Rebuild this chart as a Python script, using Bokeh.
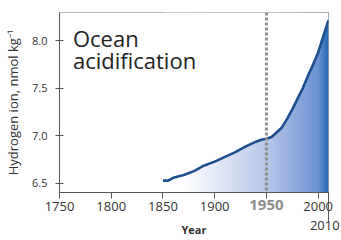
import numpy as np
from bokeh.plotting import figure
from bokeh.models import Span, Label, FixedTicker, Range1d, LinearAxis, NumeralTickFormatter
from bokeh.embed import file_html
from bokeh.resources import INLINE

# ---- data ----
years = [1850, 1855, 1860, 1870, 1880, 1890, 1900, 1910, 1920, 1930, 1940, 1945,
         1950, 1955, 1960, 1965, 1970, 1975, 1980, 1985, 1990, 1995, 2000, 2005, 2010]
hydrogen = [6.53, 6.53, 6.56, 6.59, 6.63, 6.69, 6.73, 6.78, 6.83, 6.89, 6.94, 6.96,
            6.97, 6.99, 7.04, 7.09, 7.18, 7.28, 7.39, 7.50, 7.63, 7.75, 7.88, 8.05, 8.22]
x_ticks = [1750, 1800, 1850, 1900, 1950, 2000, 2010]
y_ticks = [6.5, 7.0, 7.5, 8.0]
marker_year = 1950
end_year = 2010

FONT = "Open Sans"
X0, X1 = 1750, 2010
Y0, Y1 = 6.405, 8.30
AX = "#555555"
TXT = "#333333"

p = figure(width=341, height=240, output_backend="svg", toolbar_location=None,
           x_range=Range1d(X0, X1), y_range=Range1d(Y0, Y1), x_axis_location=None,
           min_border_left=59, min_border_right=13, min_border_top=12, min_border_bottom=48)
p.background_fill_color = "white"
p.border_fill_color = "white"
p.outline_line_color = "#a0a0a0"
p.outline_line_width = 1
p.grid.visible = False

# gradient fill (style) via image, then white mask above the curve
stops_x = [X0, 1870, 1950, 2000, X1]
stops_c = [(255, 255, 255), (255, 255, 255), (184, 200, 234), (108, 147, 210), (40, 104, 180)]
ncol = 520
cx = np.linspace(X0, X1, ncol)
img = np.empty((1, ncol), dtype=np.uint32)
view = img.view(dtype=np.uint8).reshape((1, ncol, 4))
for k in range(3):
    view[0, :, k] = np.interp(cx, stops_x, [c[k] for c in stops_c]).astype(np.uint8)
view[0, :, 3] = 255
p.image_rgba(image=[img], x=X0, y=Y0, dw=X1 - X0, dh=Y1 - Y0)
p.varea(x=years, y1=hydrogen, y2=[Y1] * len(years), fill_color="white")

p.line(years, hydrogen, line_color="#1d4f8f", line_width=2.6)

p.add_layout(Span(location=marker_year, dimension="height", line_color="#8e8e8e",
                  line_width=3, line_dash="3 2"))


def bare(ax):
    ax.axis_line_color = None
    ax.minor_tick_out = 0
    ax.minor_tick_in = 0


# ---- x axes (stacked below) ----
ax_main = LinearAxis(ticker=FixedTicker(ticks=x_ticks, minor_ticks=[]))
ax_main.major_label_overrides = {marker_year: "", end_year: ""}
ax_main.axis_line_color = AX
ax_main.major_tick_line_color = AX
ax_main.major_tick_out = 6
ax_main.major_tick_in = 0
ax_main.minor_tick_out = 0
ax_main.minor_tick_in = 0
ax_main.major_label_standoff = 3
ax_main.major_label_text_font = FONT
ax_main.major_label_text_font_size = "13px"
ax_main.major_label_text_color = TXT
p.add_layout(ax_main, "below")

ax_mark = LinearAxis(ticker=FixedTicker(ticks=[marker_year], minor_ticks=[]))
bare(ax_mark)
ax_mark.major_tick_line_color = None
ax_mark.major_tick_out = 0
ax_mark.major_tick_in = 0
ax_mark.major_label_standoff = -14
ax_mark.major_label_text_font = FONT
ax_mark.major_label_text_font_size = "15px"
ax_mark.major_label_text_font_style = "bold"
ax_mark.major_label_text_color = "#8e8e8e"
p.add_layout(ax_mark, "below")

ax_end = LinearAxis(ticker=FixedTicker(ticks=[end_year], minor_ticks=[]))
bare(ax_end)
ax_end.major_tick_line_color = AX
ax_end.major_tick_in = 18
ax_end.major_tick_out = 8
ax_end.major_label_standoff = -1
ax_end.major_label_text_font = FONT
ax_end.major_label_text_font_size = "13px"
ax_end.major_label_text_color = TXT
ax_end.axis_label = "Year"
ax_end.axis_label_text_font = FONT
ax_end.axis_label_text_font_size = "11px"
ax_end.axis_label_text_font_style = "bold"
ax_end.axis_label_text_color = TXT
ax_end.axis_label_standoff = -11
p.add_layout(ax_end, "below")

# ---- y axis ----
p.yaxis.ticker = FixedTicker(ticks=y_ticks, minor_ticks=[])
p.yaxis.formatter = NumeralTickFormatter(format="0.0")
p.yaxis.axis_line_color = AX
p.yaxis.major_tick_line_color = AX
p.yaxis.major_tick_out = 4
p.yaxis.major_tick_in = 4
p.yaxis.minor_tick_out = 0
p.yaxis.minor_tick_in = 0
p.yaxis.major_label_standoff = 8
p.yaxis.major_label_text_font = FONT
p.yaxis.major_label_text_font_size = "11px"
p.yaxis.major_label_text_color = TXT
p.yaxis.axis_label = "Hydrogen ion, nmol kg\u207b\u00b9"
p.yaxis.axis_label_text_font = FONT
p.yaxis.axis_label_text_font_style = "normal"
p.yaxis.axis_label_text_font_size = "13px"
p.yaxis.axis_label_text_color = TXT
p.yaxis.axis_label_standoff = 7

# title text
p.add_layout(Label(x=1763, y=8.03, text="Ocean", text_font=FONT, text_font_size="22px",
                   text_color="#222222", text_baseline="alphabetic"))
p.add_layout(Label(x=1763, y=7.795, text="acidification", text_font=FONT, text_font_size="22px",
                   text_color="#222222", text_baseline="alphabetic"))

open("out.html", "w").write(file_html(p, INLINE))
